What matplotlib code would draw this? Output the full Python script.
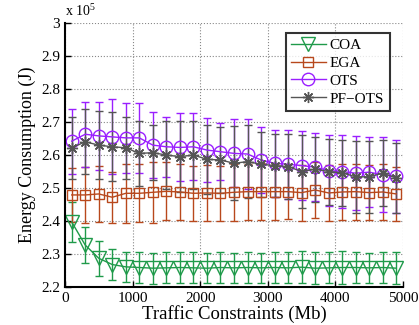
import matplotlib
matplotlib.use("Agg")
import matplotlib.pyplot as plt
import numpy as np

plt.rcParams['font.family'] = ['Liberation Serif', 'DejaVu Serif']
plt.rcParams['mathtext.fontset'] = 'custom'
plt.rcParams['mathtext.rm'] = 'Liberation Serif'

traffic = [100, 300, 500, 700, 900, 1100, 1300, 1500, 1700, 1900, 2100, 2300, 2500,
           2700, 2900, 3100, 3300, 3500, 3700, 3900, 4100, 4300, 4500, 4700, 4900]

coa = [2.397, 2.327, 2.287, 2.268, 2.261, 2.259, 2.257, 2.258, 2.259, 2.258, 2.257, 2.259, 2.258,
       2.259, 2.258, 2.259, 2.258, 2.260, 2.257, 2.258, 2.259, 2.259, 2.258, 2.259, 2.257]
coa_err = [0.060, 0.055, 0.053, 0.047, 0.045, 0.047, 0.047, 0.047, 0.046, 0.047, 0.046, 0.047, 0.046,
           0.047, 0.046, 0.048, 0.047, 0.049, 0.048, 0.047, 0.049, 0.048, 0.046, 0.048, 0.048]

ega = [2.479, 2.479, 2.482, 2.472, 2.484, 2.484, 2.487, 2.490, 2.488, 2.484, 2.485, 2.484, 2.487,
       2.489, 2.489, 2.489, 2.489, 2.486, 2.494, 2.485, 2.488, 2.489, 2.486, 2.488, 2.482]
ega_err = [0.083, 0.084, 0.086, 0.078, 0.090, 0.088, 0.092, 0.088, 0.086, 0.084, 0.085, 0.084, 0.086,
           0.085, 0.086, 0.085, 0.084, 0.085, 0.086, 0.085, 0.084, 0.085, 0.084, 0.085, 0.083]

ots = [2.642, 2.663, 2.658, 2.655, 2.652, 2.652, 2.630, 2.625, 2.623, 2.625, 2.615, 2.610, 2.605,
       2.603, 2.585, 2.575, 2.572, 2.568, 2.563, 2.553, 2.550, 2.545, 2.548, 2.540, 2.535]
ots_err = [0.099, 0.099, 0.104, 0.114, 0.105, 0.105, 0.101, 0.091, 0.103, 0.101, 0.096, 0.086, 0.103,
           0.105, 0.099, 0.101, 0.104, 0.105, 0.103, 0.108, 0.110, 0.113, 0.107, 0.114, 0.110]

pfots = [2.622, 2.640, 2.630, 2.625, 2.622, 2.605, 2.607, 2.600, 2.595, 2.600, 2.587, 2.585, 2.575,
         2.580, 2.572, 2.568, 2.565, 2.550, 2.557, 2.550, 2.546, 2.534, 2.534, 2.545, 2.530]
pfots_err = [0.094, 0.099, 0.103, 0.104, 0.094, 0.098, 0.084, 0.103, 0.108, 0.103, 0.104, 0.101, 0.112,
             0.110, 0.099, 0.095, 0.098, 0.110, 0.098, 0.100, 0.100, 0.110, 0.110, 0.100, 0.105]

xticks = [0, 1000, 2000, 3000, 4000, 5000]
yticks = [2.2, 2.3, 2.4, 2.5, 2.6, 2.7, 2.8, 2.9, 3.0]
ytick_labels = ['2.2', '2.3', '2.4', '2.5', '2.6', '2.7', '2.8', '2.9', '3']

c_coa = '#1f9a4a'
c_ega = '#b8481c'
c_ots = '#9a1fff'
c_pf = '#555555'

fig = plt.figure(figsize=(4.19, 3.25), dpi=100)
ax = fig.add_axes([0.155, 0.117, 0.807, 0.812])

asterisk = (8, 2, 0)
series = [
    ('COA', coa, coa_err, c_coa, 'v', 10.5),
    ('EGA', ega, ega_err, c_ega, 's', 7),
    ('OTS', ots, ots_err, c_ots, 'o', 9),
    ('PF\u2212OTS', pfots, pfots_err, c_pf, asterisk, 8),
]
for name, vals, err, col, mk, ms in series:
    ax.errorbar(traffic, vals, yerr=err, color=col, marker=mk, markersize=ms,
                markerfacecolor='none', markeredgecolor=col, markeredgewidth=1.0,
                linewidth=1.0, elinewidth=1.0, capsize=3, capthick=1.0, label=name)

ax.set_xlim(0, 5000)
ax.set_ylim(2.2, 3.0)
ax.set_xticks(xticks)
ax.set_yticks(yticks)
ax.set_yticklabels(ytick_labels)
ax.grid(True, linestyle=':', color='#888888', linewidth=0.8)
ax.tick_params(direction='in', labelsize=11, length=4, width=1)
for s in ['top', 'right']:
    ax.spines[s].set_visible(False)
for s in ['left', 'bottom']:
    ax.spines[s].set_linewidth(1.5)

ax.set_xlabel('Traffic Constraints (Mb)', fontsize=13.5, labelpad=0)
ax.set_ylabel('Energy Consumption (J)', fontsize=13, labelpad=4)
ax.text(0.0, 1.015, 'x 10$^{5}$', transform=ax.transAxes, fontsize=10, ha='left', va='bottom')

leg_handles = [plt.Line2D([], [], color=col, marker=mk, markersize=ms, markerfacecolor='none',
                          markeredgecolor=col, linewidth=1.0)
               for name, vals, err, col, mk, ms in series]
leg = ax.legend(leg_handles, [s[0] for s in series], loc='upper right',
                bbox_to_anchor=(0.96, 0.963), fontsize=11, frameon=True, fancybox=False,
                handlelength=2.3, handletextpad=0.25, borderpad=0.35, labelspacing=0.28,
                borderaxespad=0)
leg.get_frame().set_edgecolor('black')
leg.get_frame().set_linewidth(1.5)

fig.savefig('out.png', dpi=100)
